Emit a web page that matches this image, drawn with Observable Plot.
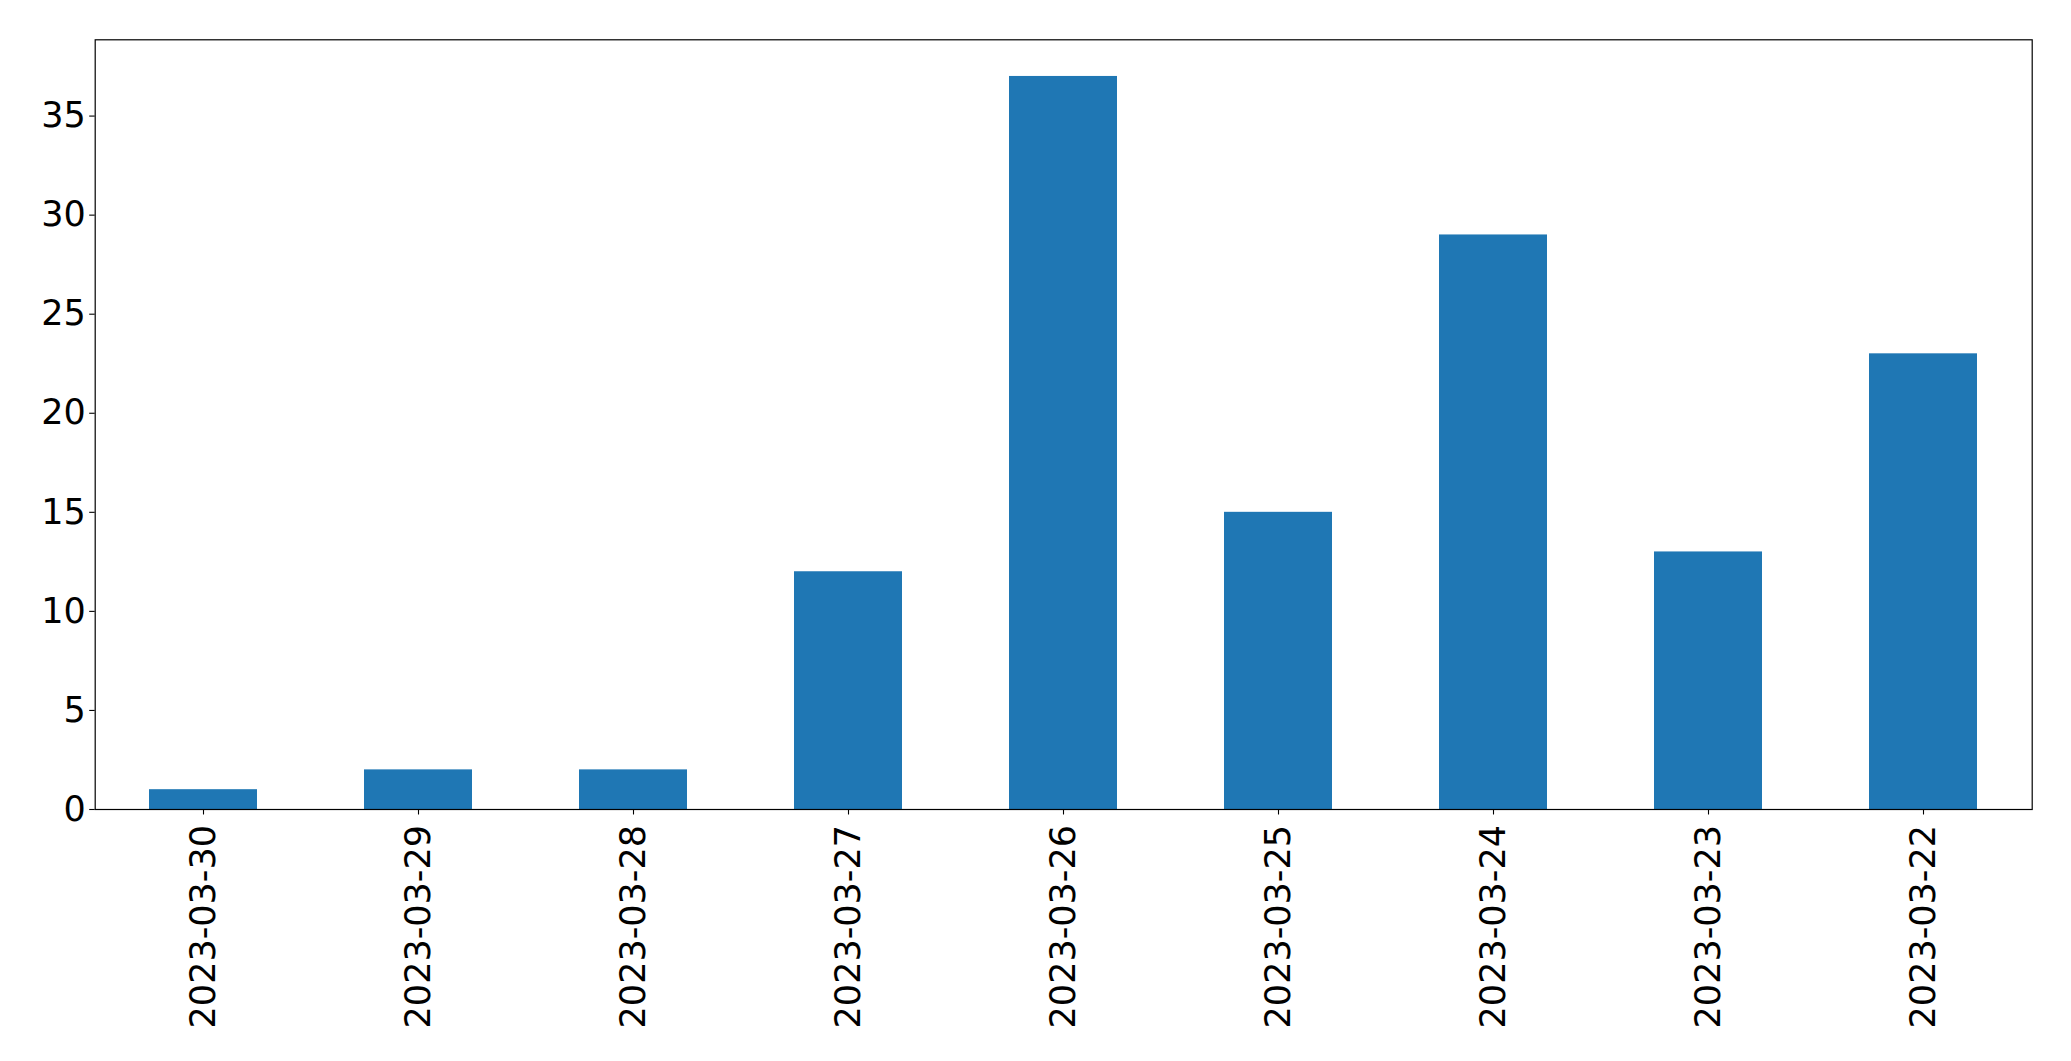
<!DOCTYPE html>
<html>
<head>
<meta charset="utf-8">
<script src="https://cdn.jsdelivr.net/npm/d3@7"></script>
<script src="https://cdn.jsdelivr.net/npm/@observablehq/plot@0.6"></script>
<style>
  html, body { margin: 0; padding: 0; background: #fff; }
  #chart svg { display: block; }
</style>
</head>
<body>
<div id="chart"></div>
<script>
const dates = ["2023-03-30","2023-03-29","2023-03-28","2023-03-27","2023-03-26","2023-03-25","2023-03-24","2023-03-23","2023-03-22"];
const counts = [1, 2, 2, 12, 37, 15, 29, 13, 23];
const yTicks = [0, 5, 10, 15, 20, 25, 30, 35];

const data = dates.map((d, i) => ({date: d, count: counts[i]}));

const chart = Plot.plot({
  width: 2071,
  height: 1061,
  marginLeft: 94.7,
  marginRight: 39.3,
  marginTop: 39.3,
  marginBottom: 252,
  style: {fontFamily: "DejaVu Sans", fontSize: "35px", color: "#000", background: "#fff"},
  x: {domain: dates, paddingInner: 0.5, paddingOuter: 0.25, align: 0.5},
  y: {domain: [0, d3.max(counts) * 1.05]},
  marks: [
    Plot.barY(data, {x: "date", y: "count", fill: "#1f77b4"}),
    Plot.axisY({ticks: yTicks, tickSize: 5.5, tickPadding: 4, label: null, fontSize: 35, stroke: "#000", strokeWidth: 1.1}),
    Plot.axisX({tickSize: 5.5, tickPadding: 10, tickRotate: -90, label: null, fontSize: 35, stroke: "#000", strokeWidth: 1.1}),
    Plot.frame({stroke: "#000", strokeWidth: 1.2})
  ]
});
document.getElementById("chart").appendChild(chart);
</script>
</body>
</html>
